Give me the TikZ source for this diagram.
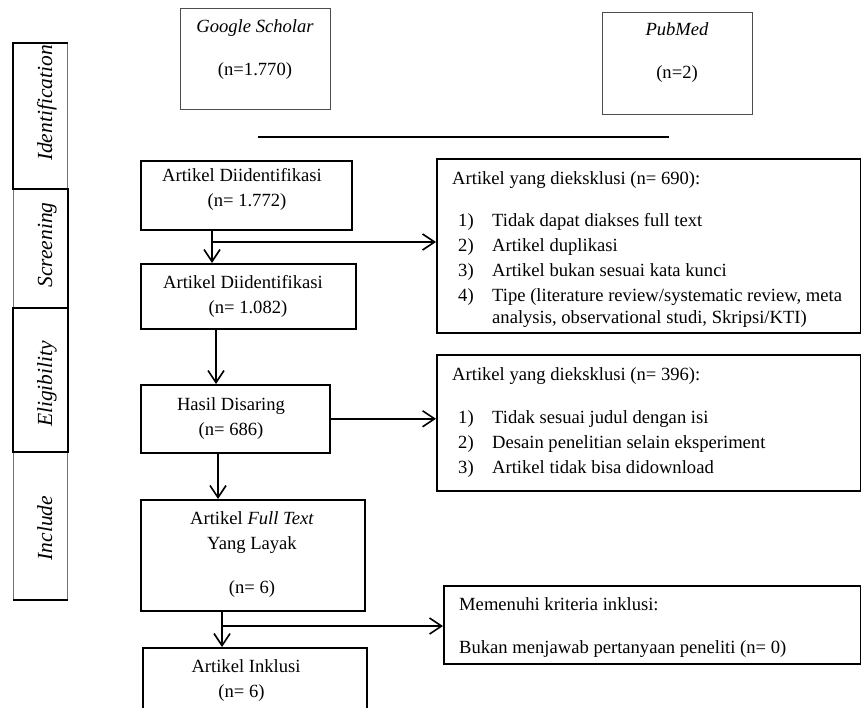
\documentclass[tikz,border=0pt]{standalone}
\usepackage{fontspec}
\setmainfont{Liberation Serif}
\usetikzlibrary{arrows.meta}
\begin{document}
\begin{tikzpicture}[x=1pt,y=-1pt,
  box/.style={draw, line width=1.6pt, inner sep=0, anchor=north west},
  srcbox/.style={draw=black!70, line width=1pt, inner sep=0, anchor=north west},
  cell/.style={draw=black!55, line width=1pt, inner sep=0, anchor=north west, minimum width=54pt},
  thick/.style={line width=1.8pt},
  txt/.style={inner sep=0, font=\fontsize{18.6}{25}\selectfont},
  lbl/.style={inner sep=0, rotate=90, anchor=base, font=\fontsize{21.5}{26}\selectfont\itshape},
  arr/.style={line width=1.6pt, -{Straight Barb[length=12pt,width=16pt,line width=1.6pt]}},
]
\useasboundingbox (0,0) rectangle (861,708);

% side column
\node[cell, minimum height=146pt] (c1) at (13,43) {};
\node[cell, minimum height=119pt] (c2) at (13,189) {};
\node[cell, minimum height=143pt] (c3) at (13,308) {};
\node[cell, minimum height=148pt] (c4) at (13,451) {};
\draw[thick] (c1.south west) -- (c1.north west) -- (c1.north east);
\draw[thick] (c2.north west) -- (c2.north east) -- (c2.south east);
\draw[thick] (c3.north east) -- (c3.north west) -- (c3.south west) -- (c3.south east) -- (c3.north east);
\draw[thick] (c4.south west) -- (c4.south east);
\node[lbl] at (52,103) {Identification};
\node[lbl] at (52,245) {Screening};
\node[lbl] at (52,384) {Eligibility};
\node[lbl] at (52,528) {Include};

% sources
\node[srcbox, minimum width=150pt, minimum height=101pt] (gs) at (180,8) {};
\node[srcbox, minimum width=150pt, minimum height=102pt] (pm) at (602,12) {};
\node[txt, anchor=base] at (255,33) {\begin{tabular}[t]{@{}c@{}}\itshape Google Scholar\\[18pt] (n=1.770)\end{tabular}};
\node[txt, anchor=base] at (677,36) {\begin{tabular}[t]{@{}c@{}}\itshape PubMed\\[18pt] (n=2)\end{tabular}};
\coordinate (l1) at (258,137);
\coordinate (l2) at (669,137);
\draw[line width=1.3pt] (l1) -- (l2);

% main flow boxes
\node[box, minimum width=211pt, minimum height=69pt] (a1) at (140,160) {};
\node[box, minimum width=215pt, minimum height=65pt] (a2) at (140,263) {};
\node[box, minimum width=189pt, minimum height=68pt] (hs) at (140,384) {};
\node[box, minimum width=224pt, minimum height=111pt] (ft) at (140,499) {};
\node[box, minimum width=224pt, minimum height=66pt] (ik) at (142,647) {};

\node[txt, anchor=base] at (242,182) {\begin{tabular}[t]{@{}c@{}}Artikel Diidentifikasi\\ \hspace*{10pt}(n= 1.772)\end{tabular}};
\node[txt, anchor=base] at (243,288) {\begin{tabular}[t]{@{}c@{}}Artikel Diidentifikasi\\ \hspace*{10pt}(n= 1.082)\end{tabular}};
\node[txt, anchor=base] at (231,410) {\begin{tabular}[t]{@{}c@{}}Hasil Disaring\\ (n= 686)\end{tabular}};
\node[txt, anchor=base] at (252,524) {\begin{tabular}[t]{@{}c@{}}Artikel \textit{Full Text}\\ Yang Layak\\[19pt] (n= 6)\end{tabular}};
\node[txt, anchor=base] at (246,672) {\begin{tabular}[t]{@{}c@{}}Artikel Inklusi\\ \hspace*{-9pt}(n= 6)\end{tabular}};

% exclusion boxes
\node[box, minimum width=424pt, minimum height=174pt] (e1) at (436,158) {};
\node[box, minimum width=424pt, minimum height=136pt] (e2) at (436,354) {};
\node[box, minimum width=417pt, minimum height=78pt] (e3) at (443,585) {};

\node[txt, anchor=base west] at (452,185) {Artikel yang dieksklusi (n= 690):};
\node[txt, anchor=base west] at (458,227) {\begin{tabular}[t]{@{}p{34pt}@{}l@{}}
1) & Tidak dapat diakses full text\\
2) & Artikel duplikasi\\
3) & Artikel bukan sesuai kata kunci\\
4) & Tipe (literature review/systematic review, meta\\[-3pt]
   & analysis, observational studi, Skripsi/KTI)
\end{tabular}};

\node[txt, anchor=base west] at (452,380) {Artikel yang dieksklusi (n= 396):};
\node[txt, anchor=base west] at (458,423) {\begin{tabular}[t]{@{}p{34pt}@{}l@{}}
1) & Tidak sesuai judul dengan isi\\
2) & Desain penelitian selain eksperiment\\
3) & Artikel tidak bisa didownload
\end{tabular}};

\node[txt, anchor=base west] at (459,610) {Memenuhi kriteria inklusi:};
\node[txt, anchor=base west] at (459,653) {Bukan menjawab pertanyaan peneliti (n= 0)};

% connectors
\coordinate (b1) at ([xshift=72pt]a1.south west |- 0,242);
\draw[line width=1.6pt] ([xshift=72pt]a1.south west) -- (b1);
\draw[arr] (b1) -- (b1 |- a2.north);
\draw[arr] (b1) -- (b1 -| e1.west);
\draw[arr] ([xshift=76pt]a2.south west) -- ([xshift=76pt]a2.south west |- hs.north);
\draw[arr] (hs.east) -- (hs.east -| e2.west);
\draw[arr] ([xshift=78pt]hs.south west) -- ([xshift=78pt]hs.south west |- ft.north);
\coordinate (b3) at ([xshift=82pt]ft.south west |- 0,626);
\draw[line width=1.6pt] ([xshift=82pt]ft.south west) -- (b3);
\draw[arr] (b3) -- (b3 |- ik.north);
\draw[arr] (b3) -- (b3 -| e3.west);
\end{tikzpicture}
\end{document}
